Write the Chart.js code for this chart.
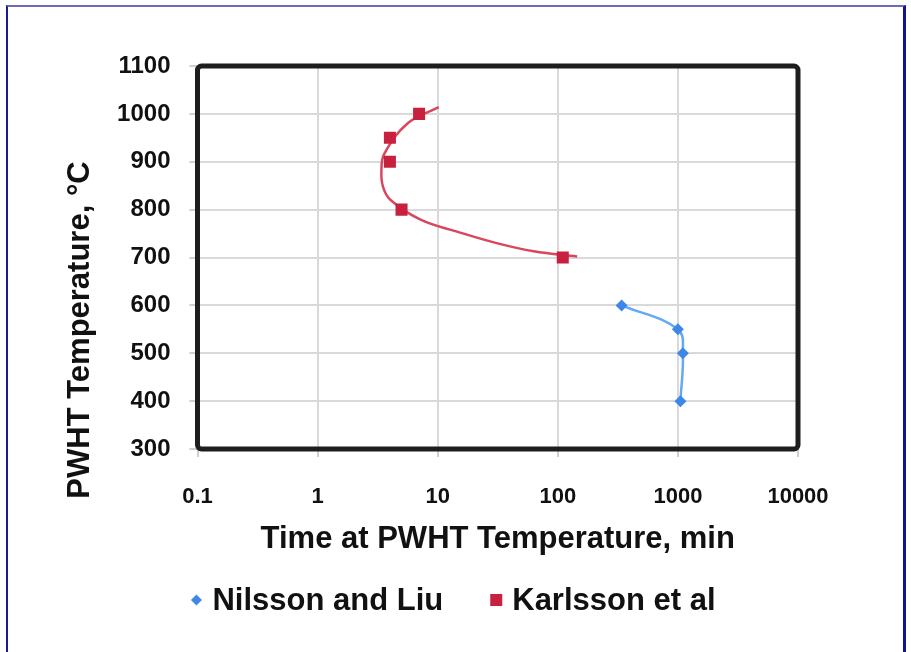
<!DOCTYPE html>
<html>
<head>
<meta charset="utf-8">
<script src="https://cdn.jsdelivr.net/npm/chart.js@4.4.1/dist/chart.umd.min.js"></script>
<style>
    html, body { margin: 0; padding: 0; background: #ffffff; overflow: hidden; }
    #wrap { position: relative; width: 911px; height: 652px; }
    #chart { position: absolute; left: 0; top: 0; }
    #frame {
        position: absolute; left: 6px; top: 5px; width: 895px; height: 660px;
        border-top: 2px solid #6c6cb6; border-left: 2px solid #1b1b8c; border-right: 3px solid #14148a;
        pointer-events: none;
    }
</style>
</head>
<body>
<div id="wrap">
    <canvas id="chart" width="911" height="652"></canvas>
    <div id="frame"></div>
</div>
<script>
// values
const timeTicks = [0.1, 1, 10, 100, 1000, 10000];
const tempTicks = [300, 400, 500, 600, 700, 800, 900, 1000, 1100];

const nilssonTime = [340, 1000, 1100, 1050];
const nilssonTemp = [600, 550, 500, 400];

const karlssonTime = [7, 4, 4, 5, 110];
const karlssonTemp = [1000, 950, 900, 800, 700];

// fitted curve drawn through the Karlsson points
const karlssonTrendTime = [10.2, 5.6, 3.6, 3.4, 3.5, 4.05, 7.2, 14.5, 31, 63, 145];
const karlssonTrendTemp = [1014, 980, 917, 883, 848, 820, 779, 754, 730, 713, 702];

const yTitle = 'PWHT Temperature, °C';

const toPoints = (xs, ys) => xs.map((x, i) => ({ x: x, y: ys[i] }));

const FONT = '"Liberation Sans", Arial, Helvetica, sans-serif';

const plotBorder = {
    id: 'plotBorder',
    beforeDatasetsDraw(chart) {
        const { ctx, chartArea: a } = chart;
        ctx.save();
        ctx.strokeStyle = '#1e1e1e';
        ctx.lineWidth = 5;
        ctx.beginPath();
        ctx.roundRect(a.left, a.top, a.right - a.left, a.bottom - a.top, 4);
        ctx.stroke();
        ctx.restore();
    }
};

// y title sits lower than the plot centre in the original, so it is drawn here
const sideTitle = {
    id: 'sideTitle',
    afterDraw(chart) {
        const ctx = chart.ctx;
        ctx.save();
        ctx.translate(80, 330);
        ctx.rotate(-Math.PI / 2);
        ctx.font = 'bold 31px ' + FONT;
        ctx.fillStyle = '#111111';
        ctx.textAlign = 'center';
        ctx.textBaseline = 'middle';
        ctx.fillText(yTitle, 0, 0);
        ctx.restore();
    }
};

const bottomLegend = {
    id: 'bottomLegend',
    afterDraw(chart) {
        const ctx = chart.ctx;
        const items = chart.data.datasets.filter(d => !d.hideInLegend);
        ctx.save();
        ctx.font = 'bold 31px ' + FONT;
        ctx.textBaseline = 'middle';
        const markW = 12, gap = 10, itemGap = 47;
        const widths = items.map(d => markW + gap + ctx.measureText(d.label).width);
        const total = widths.reduce((s, w) => s + w, 0) + itemGap * (items.length - 1);
        let x = 453 - total / 2;
        const y = 600;
        items.forEach((d, i) => {
            const cx = x + markW / 2;
            ctx.fillStyle = d.pointBackgroundColor;
            ctx.beginPath();
            if (d.pointStyle === 'rectRot') {
                ctx.moveTo(cx - 5.5, y);
                ctx.lineTo(cx, y - 5.5);
                ctx.lineTo(cx + 5.5, y);
                ctx.lineTo(cx, y + 5.5);
                ctx.closePath();
            } else {
                ctx.rect(cx - 6, y - 6, 12, 12);
            }
            ctx.fill();
            ctx.fillStyle = '#111111';
            ctx.fillText(d.label, x + markW + gap, y + 1);
            x += widths[i] + itemGap;
        });
        ctx.restore();
    }
};

const ctx = document.getElementById('chart').getContext('2d');
new Chart(ctx, {
    type: 'scatter',
    data: {
        datasets: [
            {
                label: 'Nilsson and Liu',
                data: toPoints(nilssonTime, nilssonTemp),
                showLine: true,
                tension: 0.4,
                borderColor: '#63a9f4',
                borderWidth: 2.5,
                pointStyle: 'rectRot',
                pointRadius: 6,
                pointBackgroundColor: '#3d88e6',
                pointBorderWidth: 0
            },
            {
                label: 'Karlsson et al',
                data: toPoints(karlssonTime, karlssonTemp),
                showLine: false,
                pointStyle: 'rect',
                pointRadius: 8.5,
                pointBackgroundColor: '#c8203f',
                pointBorderWidth: 0
            },
            {
                label: 'Karlsson et al (trend)',
                hideInLegend: true,
                data: toPoints(karlssonTrendTime, karlssonTrendTemp),
                showLine: true,
                tension: 0.4,
                borderColor: '#d9475f',
                borderWidth: 2.5,
                pointRadius: 0
            }
        ]
    },
    options: {
        responsive: false,
        animation: false,
        layout: { padding: { left: 57, right: 113, top: 66, bottom: 90 } },
        plugins: {
            legend: { display: false },
            tooltip: { enabled: false }
        },
        scales: {
            x: {
                type: 'logarithmic',
                min: 0.1,
                max: 10000,
                afterBuildTicks: s => { s.ticks = timeTicks.map(v => ({ value: v })); },
                afterFit: s => { s.height = 113; },
                ticks: {
                    callback: v => String(v),
                    font: { family: FONT, size: 22, weight: 'bold' },
                    color: '#111111',
                    padding: 27,
                    maxRotation: 0
                },
                grid: { color: '#d9d9d9', lineWidth: 2, tickLength: 8, tickColor: '#cfcfcf' },
                border: { display: false },
                title: {
                    display: true,
                    text: 'Time at PWHT Temperature, min',
                    font: { family: FONT, size: 31, weight: 'bold' },
                    color: '#111111',
                    padding: { top: 4, bottom: 4 }
                }
            },
            y: {
                min: 300,
                max: 1100,
                afterBuildTicks: s => { s.ticks = tempTicks.map(v => ({ value: v })); },
                afterFit: s => { s.width = 140.5; },
                ticks: {
                    callback: v => String(v),
                    font: { family: FONT, size: 24, weight: 'bold' },
                    color: '#111111',
                    padding: 19
                },
                grid: { color: '#d9d9d9', lineWidth: 2, tickLength: 8, tickColor: '#cfcfcf' },
                border: { display: false },
                title: { display: false }
            }
        }
    },
    plugins: [plotBorder, sideTitle, bottomLegend]
});
</script>
</body>
</html>
